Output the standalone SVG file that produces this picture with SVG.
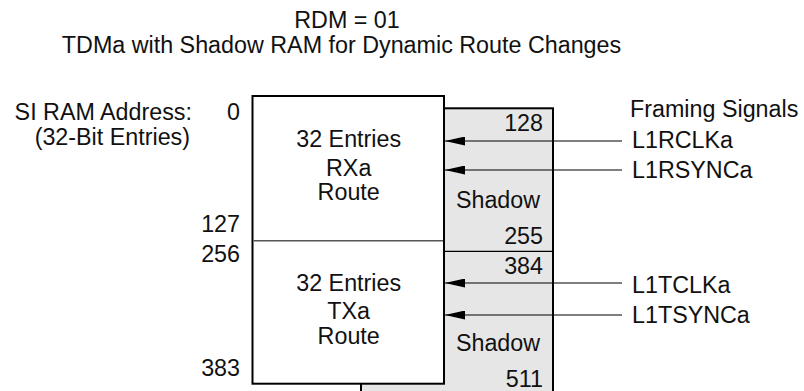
<svg xmlns="http://www.w3.org/2000/svg" width="804" height="391" viewBox="0 0 804 391">
<defs>
<style>
text{font-family:"Liberation Sans",Arial,Helvetica,sans-serif;fill:#111;font-size:23.3px}
.m{text-anchor:middle}
.e{text-anchor:end}
.box{fill:#fff;stroke:#000;stroke-width:2}
.sh{fill:#e6e6e6;stroke:#000;stroke-width:2}
.div{stroke:#555;stroke-width:1.5}
.sdiv{stroke:#000;stroke-width:1.3}
.conn{stroke:#000;stroke-width:1.2;fill:none;marker-end:url(#ah)}
</style>
<marker id="ah" markerUnits="userSpaceOnUse" markerWidth="20" markerHeight="9" refX="20" refY="4.5" orient="auto">
<path d="M0,0 L20,4.5 L0,9 z" fill="#000"/>
</marker>
</defs>
<g id="title">
<text class="m" x="347" y="28">RDM = 01</text>
<text class="m" x="341.5" y="53">TDMa with Shadow RAM for Dynamic Route Changes</text>
</g>
<g id="addr-labels">
<text class="e" x="192" y="120">SI RAM Address:</text>
<text class="e" x="190" y="145">(32-Bit Entries)</text>
<text class="e" x="240" y="120">0</text>
<text class="e" x="240" y="232">127</text>
<text class="e" x="240" y="262">256</text>
<text class="e" x="240" y="376">383</text>
</g>
<g id="shadow">
<rect class="sh" x="361" y="108.3" width="192" height="300"/>
<line class="sdiv" x1="444" y1="251.3" x2="553" y2="251.3"/>
<text class="e" x="543" y="131">128</text>
<text class="m" x="498" y="208">Shadow</text>
<text class="e" x="543" y="244">255</text>
<text class="e" x="543" y="274">384</text>
<text class="m" x="498" y="351">Shadow</text>
<text class="e" x="543" y="387">511</text>
</g>
<g id="ram">
<rect class="box" x="252.5" y="96" width="191.5" height="287.7"/>
<line class="div" x1="253.5" y1="240.7" x2="443" y2="240.7"/>
</g>
<g id="rx-route">
<text class="m" x="348.7" y="146.7">32 Entries</text>
<text class="m" x="348.7" y="176">RXa</text>
<text class="m" x="348.7" y="200">Route</text>
</g>
<g id="tx-route">
<text class="m" x="348.7" y="290.7">32 Entries</text>
<text class="m" x="348.7" y="319">TXa</text>
<text class="m" x="348.7" y="344">Route</text>
</g>
<g id="signals">
<text x="630" y="116.7">Framing Signals</text>
<text x="632" y="148.3">L1RCLKa</text>
<text x="632" y="178.3">L1RSYNCa</text>
<text x="632" y="292.7">L1TCLKa</text>
<text x="632" y="323.3">L1TSYNCa</text>
</g>
<g id="connectors">
<line class="conn" x1="622" y1="141" x2="445" y2="141"/>
<line class="conn" x1="622" y1="170" x2="445" y2="170"/>
<line class="conn" x1="622" y1="283" x2="445" y2="283"/>
<line class="conn" x1="622" y1="315" x2="445" y2="315"/>
</g>
</svg>
